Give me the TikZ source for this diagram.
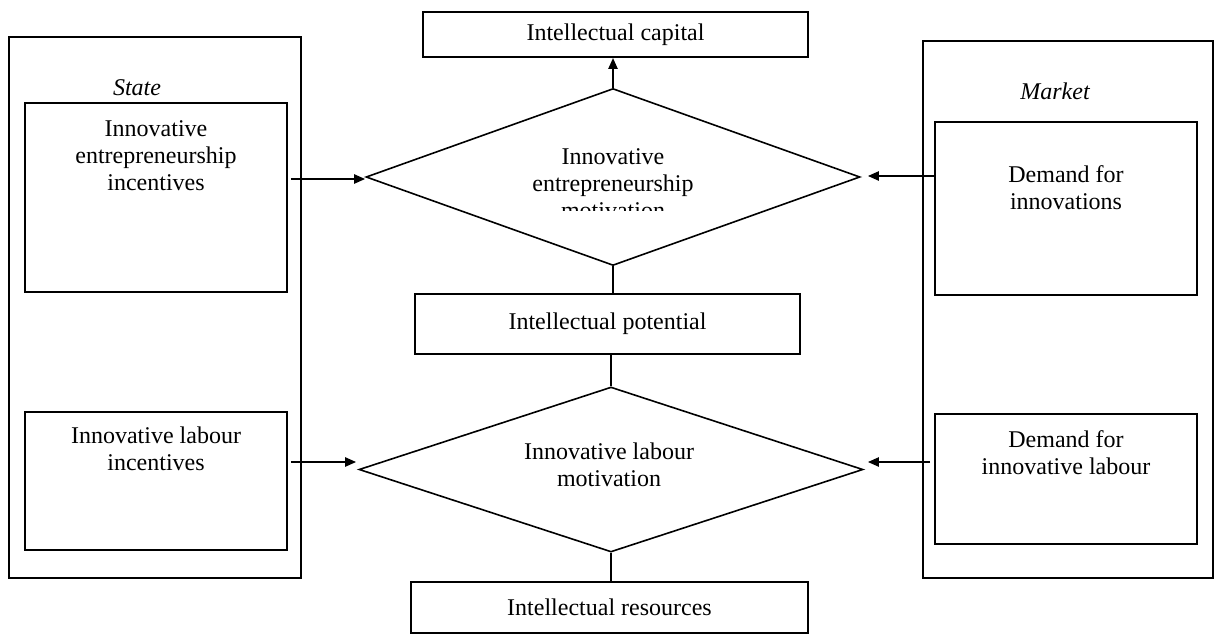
\documentclass[tikz,border=0pt]{standalone}
\usepackage{fontspec}
\setmainfont{Liberation Serif}
\usetikzlibrary{shapes.geometric,arrows.meta,calc}
\begin{document}
\begin{tikzpicture}[x=1pt,y=-1pt,
  box/.style={draw,line width=1.8pt,inner sep=0pt,minimum width=#1},
  dia/.style={draw,diamond,line width=1.6pt,inner sep=0pt},
  txt/.style={font=\fontsize{24}{27}\selectfont,align=center,inner sep=0pt},
  lab/.style={font=\fontsize{24}{27}\selectfont\itshape,inner sep=0pt,anchor=base},
  arr/.style={line width=2.2pt,-{Triangle[length=11pt,width=9pt]}},
  conn/.style={line width=2pt}]
\useasboundingbox (0,0) rectangle (1214,634);
% outer frames
\node[box=292pt,minimum height=541pt] (state) at (155,307.5) {};
\node[box=290pt,minimum height=537pt] (market) at (1068,309.5) {};
\node[lab] (statel) at (137,95) {State};
\node[lab] (marketl) at (1055,99) {Market};
% inner boxes
\node[box=262pt,minimum height=189pt] (lb1) at (156,197.5) {};
\node[box=262pt,minimum height=138pt] (lb2) at (156,481) {};
\node[box=262pt,minimum height=173pt] (rb1) at (1066,208.5) {};
\node[box=262pt,minimum height=130pt] (rb2) at (1066,479) {};
\node[txt] (lb1t) at (156,155.5) {Innovative\\entrepreneurship\\incentives};
\node[txt] (lb2t) at (156,449) {Innovative labour\\incentives};
\node[txt] (rb1t) at (1066,188) {Demand for\\innovations};
\node[txt] (rb2t) at (1066,453) {Demand for\\innovative labour};
% central column
\node[box=385pt,minimum height=45pt,txt] (cap) at (615.5,34.5) {Intellectual capital};
\node[box=385pt,minimum height=60pt,txt] (pot) at (607.5,324) {Intellectual potential};
\node[box=397pt,minimum height=51pt,txt] (res) at (609.5,607.5) {Intellectual resources};
\node[dia,minimum width=494pt,minimum height=177pt] (d1) at (613,177) {};
\node[dia,minimum width=504pt,minimum height=165pt] (d2) at (611,469.5) {};
\begin{scope}
\clip (400,100) rectangle (830,210);
\node[txt] (d1t) at (613,184) {Innovative\\entrepreneurship\\motivation};
\end{scope}
\node[txt] (d2t) at (609,465) {Innovative labour\\motivation};
% connectors
\draw[arr] (d1.north) -- (d1.north |- cap.south);
\draw[conn] (d1.south) -- (d1.south |- pot.north);
\draw[conn] (d2.north |- pot.south) -- (d2.north);
\draw[conn] (d2.south) -- (d2.south |- res.north);
\coordinate (t1) at ([shift={(0,2)}]d1.west);
\coordinate (t2) at ([shift={(-2,-7.5)}]d2.west);
\coordinate (t3) at ([shift={(7,-1)}]d1.east);
\coordinate (t4) at ([shift={(4,-7.5)}]d2.east);
\draw[arr] ([xshift=3pt]lb1.east |- t1) -- (t1);
\draw[arr] ([xshift=3pt]lb2.east |- t2) -- (t2);
\draw[arr] (rb1.west |- t3) -- (t3);
\draw[arr] ([xshift=-4pt]rb2.west |- t4) -- (t4);
\end{tikzpicture}
\end{document}
